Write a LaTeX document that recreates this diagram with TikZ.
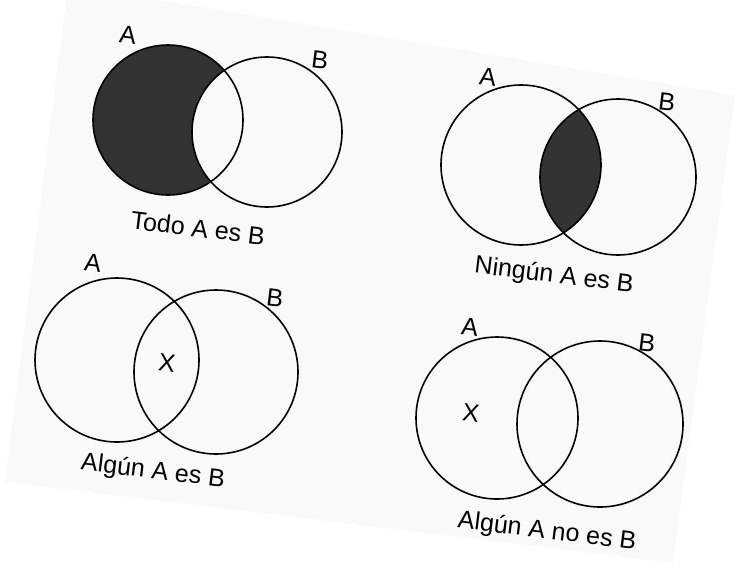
\documentclass[tikz,border=0pt]{standalone}
\usepackage{fontspec}
\setmainfont{Liberation Sans}
\begin{document}
\begin{tikzpicture}[x=1pt,y=-1pt,
  venn/.style={line width=1.6pt},
  darkfill/.style={fill=black!80},
  lbl/.style={font=\fontsize{25}{29}\selectfont,rotate=-7,inner sep=0pt}]
  \useasboundingbox (0,0) rectangle (739,571);
  % the tilted sheet
  \fill[gray!5] (68,-15) -- (735,95) -- (673,563) -- (5,482) -- cycle;
  % centres
  \coordinate (a1) at (168,120);
  \coordinate (b1) at (267,132);
  \coordinate (a2) at (521,165);
  \coordinate (b2) at (618,177);
  \coordinate (a3) at (117,360);
  \coordinate (b3) at (216,372);
  \coordinate (a4) at (497,418);
  \coordinate (b4) at (600,424);
  % Todo A es B
  \begin{scope}
    \clip (a1) circle (75pt);
    \fill[darkfill,even odd rule] (a1) circle (75pt) (b1) circle (75pt);
  \end{scope}
  % Ningun A es B
  \begin{scope}
    \clip (a2) circle (80pt);
    \fill[darkfill] (b2) circle (78pt);
  \end{scope}
  \draw[venn] (a1) circle (75pt);
  \draw[venn] (b1) circle (75pt);
  \draw[venn] (a2) circle (80pt);
  \draw[venn] (b2) circle (78pt);
  \draw[venn] (a3) circle (82pt);
  \draw[venn] (b3) circle (82pt);
  \draw[venn] (a4) circle (81pt);
  \draw[venn] (b4) circle (83pt);
  % labels
  \node[lbl] at (128,35) (setA1) {A};
  \node[lbl] at (320,60) (setB1) {B};
  \node[lbl] at (488,77) (setA2) {A};
  \node[lbl] at (667,102) (setB2) {B};
  \node[lbl] at (93,263) (setA3) {A};
  \node[lbl] at (275,298) (setB3) {B};
  \node[lbl] at (470,327) (setA4) {A};
  \node[lbl] at (647,343) (setB4) {B};
  \node[lbl] at (167,363) (mark3) {X};
  \node[lbl] at (471,413) (mark4) {X};
  \node[lbl] at (198,228) (cap1) {Todo A es B};
  \node[lbl] at (554,276) (cap2) {Ningún A es B};
  \node[lbl] at (153,472) (cap3) {Algún A es B};
  \node[lbl] at (547,532) (cap4) {Algún A no es B};
\end{tikzpicture}
\end{document}
